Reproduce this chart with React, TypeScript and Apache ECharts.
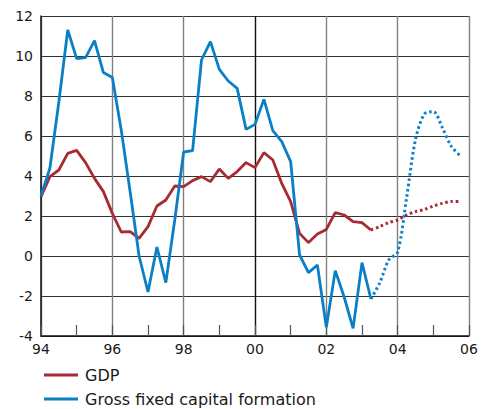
import React, { useEffect, useRef } from "react";
import * as echarts from "echarts";

const START_YEAR = 1994;
const xTickLabels = ["94", "96", "98", "00", "02", "04", "06"];

// quarterly values, 1994Q1 .. 2003Q2 (outcome)
const gdpActual = [
  2.97, 3.97, 4.3, 5.13, 5.28, 4.67, 3.88, 3.22, 2.13, 1.2,
  1.22, 0.88, 1.47, 2.5, 2.8, 3.5, 3.47, 3.77, 3.97, 3.72,
  4.35, 3.88, 4.22, 4.67, 4.42, 5.17, 4.8, 3.63, 2.72, 1.13,
  0.67, 1.1, 1.33, 2.17, 2.05, 1.72, 1.67, 1.3,
];
const gfcfActual = [
  3.0, 4.4, 7.7, 11.3, 9.87, 9.92, 10.77, 9.17, 8.93, 6.3,
  3.2, 0.0, -1.8, 0.45, -1.33, 1.8, 5.2, 5.27, 9.8, 10.72,
  9.33, 8.75, 8.38, 6.33, 6.58, 7.83, 6.27, 5.72, 4.72, 0.05,
  -0.83, -0.45, -3.57, -0.73, -2.05, -3.62, -0.33, -2.15,
];
// forecast, 2003Q2 .. 2005Q4
const FORECAST_OFFSET = 37;
const gdpForecast = [1.3, 1.47, 1.67, 1.8, 2.05, 2.22, 2.33, 2.5, 2.63, 2.72, 2.72];
const gfcfForecast = [-2.15, -1.33, -0.2, 0.2, 2.9, 5.83, 7.1, 7.22, 6.43, 5.5, 5.02];

const RED = "#a82a33";
const BLUE = "#0a7fc6";
const FONT = "DejaVu Sans";

const toPoints = (vals: number[], offset: number) =>
  vals.map((v, i) => [START_YEAR + (offset + i) / 4, v]);

const legendBase = {
  left: 39,
  icon: "rect",
  itemWidth: 34,
  itemHeight: 3,
  selectedMode: false,
  textStyle: { fontFamily: FONT, fontSize: 16, color: "#1a1a1a", padding: [0, 0, 0, 2] },
};

export default function App() {
  const ref = useRef<HTMLDivElement>(null);
  useEffect(() => {
    if (!ref.current) return;
    const chart = echarts.init(ref.current, undefined, { renderer: "svg" });
    chart.setOption({
      animation: false,
      backgroundColor: "#ffffff",
      grid: { left: 41, right: 16, top: 16, bottom: 73, containLabel: false },
      legend: [
        { ...legendBase, top: 362, data: ["GDP"] },
        { ...legendBase, top: 386, data: ["Gross fixed capital formation"] },
      ],
      xAxis: {
        type: "value",
        min: 1994,
        max: 2006,
        interval: 2,
        axisLine: { show: true, onZero: false, lineStyle: { color: "#111", width: 1.5 } },
        axisTick: { show: true, inside: true, length: 11, lineStyle: { color: "#555", width: 1.2 } },
        minorTick: { show: true, splitNumber: 2, length: 11, lineStyle: { color: "#555", width: 1.2 } },
        axisLabel: {
          fontFamily: FONT,
          fontSize: 14,
          color: "#1a1a1a",
          margin: 6,
          formatter: (v: number) => xTickLabels[Math.round((v - 1994) / 2)] ?? "",
        },
        splitLine: {
          show: true,
          lineStyle: {
            color: ["#808080", "#808080", "#808080", "#111111", "#808080", "#808080", "#808080"],
            width: 1.4,
          },
        },
      },
      yAxis: {
        type: "value",
        min: -4,
        max: 12,
        interval: 2,
        axisLine: { show: true, onZero: false, lineStyle: { color: "#111", width: 1.5 } },
        axisTick: { show: false },
        axisLabel: { fontFamily: FONT, fontSize: 14, color: "#1a1a1a", margin: 8 },
        splitLine: { show: true, lineStyle: { color: "#333", width: 1.2 } },
      },
      series: [
        {
          name: "GDP",
          type: "line",
          data: toPoints(gdpActual, 0),
          symbol: "none",
          lineStyle: { color: RED, width: 2.8 },
          itemStyle: { color: RED },
          z: 3,
        },
        {
          name: "Gross fixed capital formation",
          type: "line",
          data: toPoints(gfcfActual, 0),
          symbol: "none",
          lineStyle: { color: BLUE, width: 2.8 },
          itemStyle: { color: BLUE },
          z: 4,
        },
        {
          name: "GDP forecast",
          type: "line",
          data: toPoints(gdpForecast, FORECAST_OFFSET),
          symbol: "none",
          smooth: 0.3,
          lineStyle: { color: RED, width: 3, type: [2.5, 2.8] },
          z: 3,
        },
        {
          name: "GFCF forecast",
          type: "line",
          data: toPoints(gfcfForecast, FORECAST_OFFSET),
          symbol: "none",
          smooth: 0.3,
          lineStyle: { color: BLUE, width: 3, type: [2.5, 2.8] },
          z: 4,
        },
      ],
    });
    return () => chart.dispose();
  }, []);
  return (
    <div
      ref={ref}
      style={{ position: "fixed", left: 0, top: 0, width: 485, height: 409, background: "#fff" }}
    />
  );
}
